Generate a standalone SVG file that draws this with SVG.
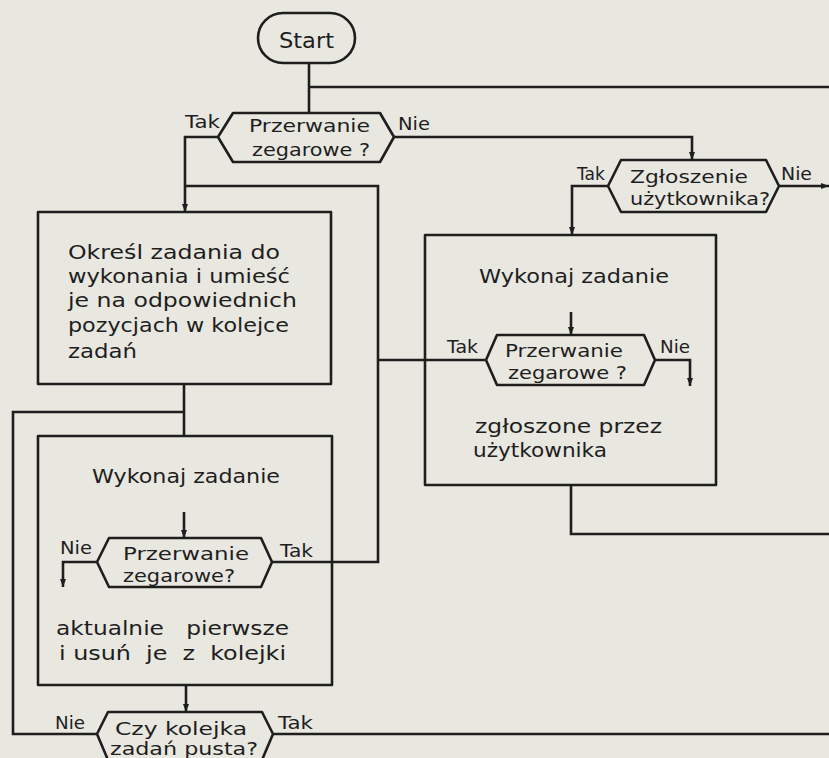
<svg xmlns="http://www.w3.org/2000/svg" width="829" height="758" viewBox="0 0 829 758">
<style>
.bg{fill:#e8e7e0}
.shape{fill:none;stroke:#1e1e1e;stroke-width:2.6;stroke-linejoin:round}
.line{fill:none;stroke:#1e1e1e;stroke-width:2.6}
.t{font-family:"DejaVu Sans","Liberation Sans",sans-serif;fill:#1e1e1e}
.box{font-size:20px}
.dia{font-size:18px}
.lab{font-size:17px}
</style>
<defs>
<marker id="arr" markerUnits="userSpaceOnUse" markerWidth="8" markerHeight="10" refX="8" refY="3" orient="auto">
<path d="M0,0 L8,3 L0,6 Z" fill="#1e1e1e"/>
</marker>
</defs>
<rect class="bg" x="0" y="0" width="829" height="758"/>

<g id="connectors">
<path class="line" d="M309,63 V113"/>
<path class="line" d="M309,87 H829"/>
<path class="line" d="M394,137 H692 V160" marker-end="url(#arr)"/>
<path class="line" d="M218,137 H185 V212" marker-end="url(#arr)"/>
<path class="line" d="M272,562 H378 V186 H185"/>
<path class="line" d="M608,186 H572 V235" marker-end="url(#arr)"/>
<path class="line" d="M779,186 H829" marker-end="url(#arr)"/>
<path class="line" d="M571,312 V335" marker-end="url(#arr)"/>
<path class="line" d="M486,360 H378"/>
<path class="line" d="M655,360 H690 V386" marker-end="url(#arr)"/>
<path class="line" d="M571,485 V534 H829"/>
<path class="line" d="M184,384 V436"/>
<path class="line" d="M97,734 H13 V412 H184"/>
<path class="line" d="M184,512 V538" marker-end="url(#arr)"/>
<path class="line" d="M97,562 H63 V587" marker-end="url(#arr)"/>
<path class="line" d="M186,685 V712" marker-end="url(#arr)"/>
<path class="line" d="M273,734 H829"/>
</g>

<g id="start">
<rect class="shape" x="258" y="13" width="97" height="50" rx="25"/>
<text class="t" x="279" y="48" font-size="22" textLength="55" lengthAdjust="spacingAndGlyphs">Start</text>
</g>

<g id="decision-zegar-1">
<polygon class="shape" points="233,113 380,113 394,137 380,162 233,162 218,137"/>
<text class="t dia" x="249" y="132" textLength="121" lengthAdjust="spacingAndGlyphs">Przerwanie</text>
<text class="t dia" x="252" y="156" textLength="118" lengthAdjust="spacingAndGlyphs">zegarowe ?</text>
<text class="t lab" x="185" y="128" textLength="35" lengthAdjust="spacingAndGlyphs">Tak</text>
<text class="t lab" x="398" y="130" textLength="32" lengthAdjust="spacingAndGlyphs">Nie</text>
</g>

<g id="decision-zgloszenie">
<polygon class="shape" points="621,160 766,160 779,186 766,212 621,212 608,186"/>
<text class="t dia" x="630" y="183" textLength="118" lengthAdjust="spacingAndGlyphs">Zgłoszenie</text>
<text class="t dia" x="630" y="205" textLength="140" lengthAdjust="spacingAndGlyphs">użytkownika?</text>
<text class="t lab" x="577" y="180" textLength="28" lengthAdjust="spacingAndGlyphs">Tak</text>
<text class="t lab" x="781" y="180" textLength="31" lengthAdjust="spacingAndGlyphs">Nie</text>
</g>

<g id="box-okresl">
<rect class="shape" x="38" y="212" width="293" height="172"/>
<text class="t box" x="68" y="259" textLength="212" lengthAdjust="spacingAndGlyphs">Określ zadania do</text>
<text class="t box" x="68" y="283" textLength="222" lengthAdjust="spacingAndGlyphs">wykonania i umieść</text>
<text class="t box" x="68" y="307" textLength="229" lengthAdjust="spacingAndGlyphs">je na odpowiednich</text>
<text class="t box" x="68" y="332" textLength="221" lengthAdjust="spacingAndGlyphs">pozycjach w kolejce</text>
<text class="t box" x="68" y="358" textLength="69" lengthAdjust="spacingAndGlyphs">zadań</text>
</g>

<g id="box-uzytkownik">
<rect class="shape" x="425" y="235" width="291" height="250"/>
<text class="t box" x="479" y="283" textLength="190" lengthAdjust="spacingAndGlyphs">Wykonaj zadanie</text>
<text class="t box" x="475" y="433" textLength="187" lengthAdjust="spacingAndGlyphs">zgłoszone przez</text>
<text class="t box" x="473" y="457" textLength="134" lengthAdjust="spacingAndGlyphs">użytkownika</text>
</g>

<g id="decision-zegar-2">
<polygon class="shape" points="497,335 644,335 655,360 644,385 497,385 486,360"/>
<text class="t dia" x="505" y="357" textLength="118" lengthAdjust="spacingAndGlyphs">Przerwanie</text>
<text class="t dia" x="508" y="379" textLength="119" lengthAdjust="spacingAndGlyphs">zegarowe ?</text>
<text class="t lab" x="447" y="353" textLength="31" lengthAdjust="spacingAndGlyphs">Tak</text>
<text class="t lab" x="660" y="353" textLength="30" lengthAdjust="spacingAndGlyphs">Nie</text>
</g>

<g id="box-pierwsze">
<rect class="shape" x="38" y="436" width="294" height="249"/>
<text class="t box" x="92" y="483" textLength="188" lengthAdjust="spacingAndGlyphs">Wykonaj zadanie</text>
<text class="t box" x="56" y="635" textLength="233" lengthAdjust="spacingAndGlyphs" xml:space="preserve">aktualnie   pierwsze</text>
<text class="t box" x="59" y="660" textLength="227" lengthAdjust="spacingAndGlyphs" xml:space="preserve">i usuń  je  z  kolejki</text>
</g>

<g id="decision-zegar-3">
<polygon class="shape" points="109,538 261,538 272,562 261,587 109,587 97,562"/>
<text class="t dia" x="123" y="560" textLength="126" lengthAdjust="spacingAndGlyphs">Przerwanie</text>
<text class="t dia" x="123" y="582" textLength="112" lengthAdjust="spacingAndGlyphs">zegarowe?</text>
<text class="t lab" x="60" y="554" textLength="32" lengthAdjust="spacingAndGlyphs">Nie</text>
<text class="t lab" x="280" y="557" textLength="33" lengthAdjust="spacingAndGlyphs">Tak</text>
</g>

<g id="decision-kolejka">
<polygon class="shape" points="108,712 262,712 273,734 262,760 108,760 97,734"/>
<text class="t dia" x="115" y="735" textLength="132" lengthAdjust="spacingAndGlyphs">Czy kolejka</text>
<text class="t dia" x="110" y="755" textLength="148" lengthAdjust="spacingAndGlyphs">zadań pusta?</text>
<text class="t lab" x="55" y="729" textLength="30" lengthAdjust="spacingAndGlyphs">Nie</text>
<text class="t lab" x="278" y="729" textLength="35" lengthAdjust="spacingAndGlyphs">Tak</text>
</g>
</svg>
